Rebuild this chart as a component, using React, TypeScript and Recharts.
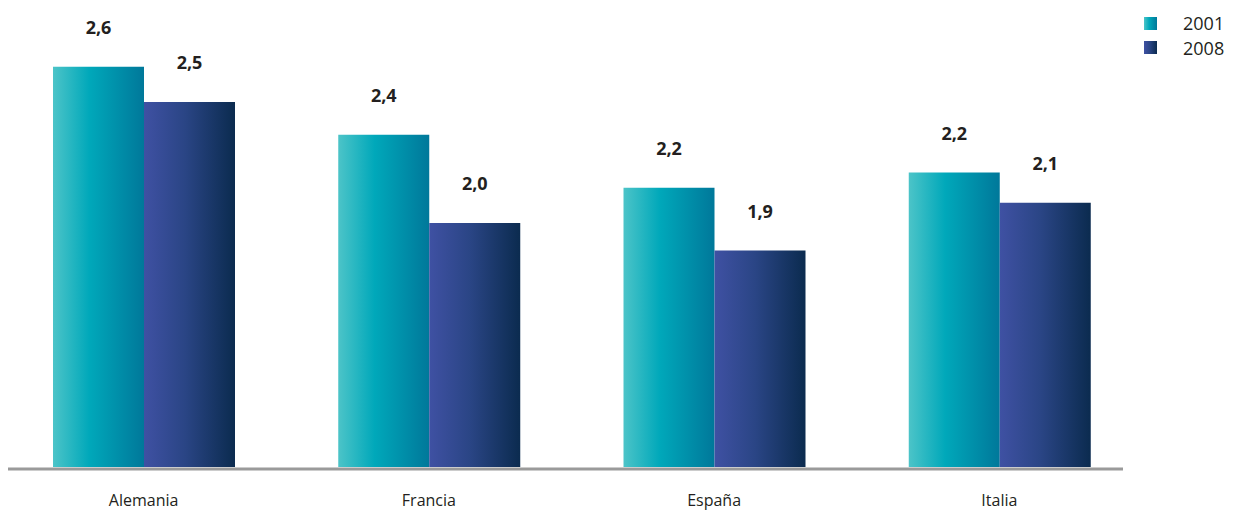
import { BarChart, Bar, XAxis, YAxis, LabelList, Legend } from "recharts";

// printed labels are rounded to one decimal
const countries = ["Alemania", "Francia", "España", "Italia"];
const values2001 = [2.64, 2.37, 2.16, 2.22];
const values2008 = [2.5, 2.02, 1.91, 2.1];
const seriesNames = ["2001", "2008"];

const data = countries.map((name, i) => ({
  name,
  y2001: values2001[i],
  y2008: values2008[i],
}));

const FONT = "'Open Sans', 'Noto Sans', sans-serif";

const fmt = (v: number) => v.toFixed(1).replace(".", ",");

function LegendBox() {
  const fills = [
    "linear-gradient(90deg, #4cc4c8 0%, #00a8ba 40%, #00789a 100%)",
    "linear-gradient(90deg, #3f51a3 0%, #2a4585 45%, #0b2b4f 100%)",
  ];
  return (
    <div style={{ fontFamily: FONT, fontSize: 18, color: "#231f20" }}>
      {seriesNames.map((s, i) => (
        <div
          key={s}
          style={{ display: "flex", alignItems: "center", height: 24.5 }}
        >
          <div style={{ width: 13, height: 13, background: fills[i] }} />
          <span style={{ marginLeft: 26, lineHeight: 1 }}>{s}</span>
        </div>
      ))}
    </div>
  );
}

function CategoryTick(props: any) {
  const { x, y, payload } = props;
  return (
    <text
      x={x}
      y={y + 39}
      textAnchor="middle"
      fontFamily={FONT}
      fontSize={16}
      fill="#231f20"
    >
      {payload.value}
    </text>
  );
}

export default function App() {
  return (
    <div style={{ width: 1240, height: 511, position: "relative" }}>
      <style>{`body{margin:0}`}</style>
      <BarChart
        width={1240}
        height={511}
        data={data}
        margin={{ top: 14, right: 117, bottom: 0, left: 8 }}
        barGap={0}
        barSize={91}
      >
        <defs>
          <linearGradient id="g2001" x1="0" y1="0" x2="1" y2="0">
            <stop offset="0%" stopColor="#4cc4c8" />
            <stop offset="40%" stopColor="#00a8ba" />
            <stop offset="100%" stopColor="#00789a" />
          </linearGradient>
          <linearGradient id="g2008" x1="0" y1="0" x2="1" y2="0">
            <stop offset="0%" stopColor="#3f51a3" />
            <stop offset="45%" stopColor="#2a4585" />
            <stop offset="100%" stopColor="#0b2b4f" />
          </linearGradient>
        </defs>
        <XAxis
          dataKey="name"
          height={44}
          padding={{ left: -7, right: -19 }}
          tickLine={false}
          tickSize={0}
          tickMargin={0}
          axisLine={{ stroke: "#9a9a9a", strokeWidth: 3, transform: "translate(0,2)" }}
          tick={<CategoryTick />}
          interval={0}
        />
        <YAxis hide domain={[1.05, 2.85]} allowDataOverflow />
        <Legend
          layout="vertical"
          align="center"
          verticalAlign="middle"
          content={() => <LegendBox />}
          wrapperStyle={{ position: "absolute", top: 11, left: 1144, width: 100 }}
        />
        <Bar dataKey="y2001" fill="url(#g2001)" isAnimationActive={false}>
          <LabelList
            dataKey="y2001"
            position="top"
            offset={33}
            formatter={(v: any) => fmt(Number(v))}
            style={{ fontFamily: FONT, fontSize: 18, fontWeight: 700, fill: "#231f20" }}
          />
        </Bar>
        <Bar dataKey="y2008" fill="url(#g2008)" isAnimationActive={false}>
          <LabelList
            dataKey="y2008"
            position="top"
            offset={33}
            formatter={(v: any) => fmt(Number(v))}
            style={{ fontFamily: FONT, fontSize: 18, fontWeight: 700, fill: "#231f20" }}
          />
        </Bar>
      </BarChart>
    </div>
  );
}
